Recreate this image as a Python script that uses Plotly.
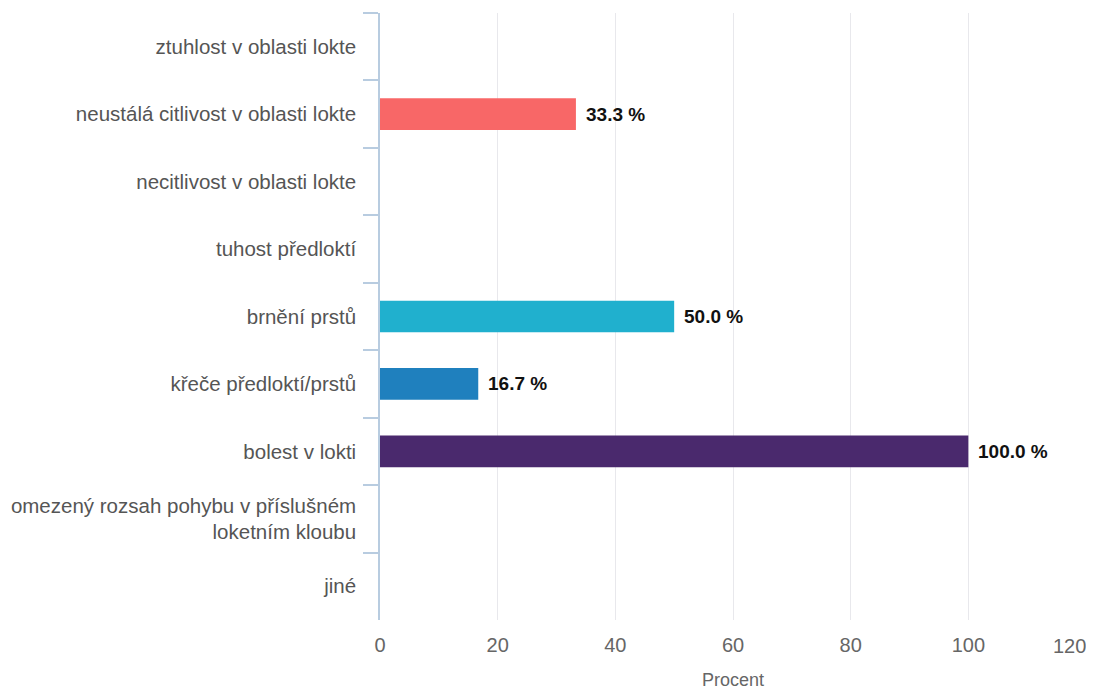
import plotly.graph_objects as go

categories = [
    "ztuhlost v oblasti lokte",
    "neustálá citlivost v oblasti lokte",
    "necitlivost v oblasti lokte",
    "tuhost předloktí",
    "brnění prstů",
    "křeče předloktí/prstů",
    "bolest v lokti",
    "omezený rozsah pohybu v příslušném<br>loketním kloubu",
    "jiné",
]
values = [0, 33.3, 0, 0, 50.0, 16.7, 100.0, 0, 0]
colors = ["#F86767", "#F86767", "#F86767", "#F86767", "#20B0CE", "#1F80BE", "#4A296D", "#4A296D", "#4A296D"]
x_ticks = [0, 20, 40, 60, 80, 100, 120]
x_tick_labels = ["0", "20", "40", "60", "80", "100", "120"]

FONT = "Liberation Sans, Arial, Helvetica, sans-serif"

fig = go.Figure()
fig.add_trace(go.Bar(
    x=values, y=categories, orientation="h",
    marker=dict(color=colors, line=dict(width=0)),
    width=0.47, hoverinfo="skip",
))

for c, v in zip(categories, values):
    if v > 0:
        fig.add_annotation(x=v, y=c, text=f"{v:.1f} %", showarrow=False,
                           xanchor="left", xshift=8,
                           font=dict(family=FONT, size=19, color="#111111", weight="bold"))

# the last tick label sits flush with the right edge of the plot, as in the reference
shown_ticklabels = x_tick_labels[:-1] + [""]
fig.add_annotation(x=x_ticks[-1], y=0, xref="x", yref="paper", text=x_tick_labels[-1],
                   showarrow=False, xanchor="right", yanchor="top", xshift=2, yshift=-13,
                   font=dict(family=FONT, size=20, color="#666666"))

fig.update_layout(
    width=1086, height=683,
    margin=dict(l=372, r=8, t=5, b=71, autoexpand=False),
    plot_bgcolor="white", paper_bgcolor="white",
    showlegend=False,
    font=dict(family=FONT),
)
fig.update_xaxes(
    range=[0, 120], tickvals=x_ticks, ticktext=shown_ticklabels,
    automargin=False,
    showgrid=True, gridcolor="#E8E8EC", gridwidth=1,
    zeroline=False, showline=False, ticks="",
    ticklabelstandoff=11,
    tickfont=dict(size=20, color="#666666"),
    title=dict(text="Procent", font=dict(size=18, color="#666666"), standoff=18),
)
fig.update_yaxes(
    categoryorder="array", categoryarray=categories, autorange="reversed",
    automargin=False,
    showline=True, linecolor="#B8CCE0", linewidth=1.5,
    ticks="outside", ticklen=15, tickcolor="#B8CCE0", tickwidth=1.5,
    tickson="boundaries", showgrid=False,
    ticklabelstandoff=18,
    tickfont=dict(size=20.5, color="#555555"),
)

fig.write_html("out.html")
